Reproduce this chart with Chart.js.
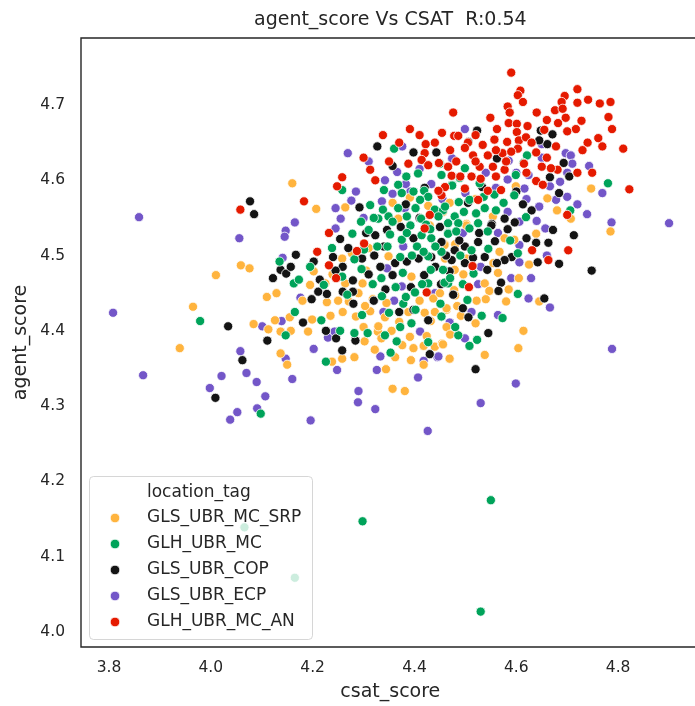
<!DOCTYPE html>
<html>
<head>
<meta charset="utf-8">
<script src="https://cdn.jsdelivr.net/npm/chart.js@4.4.1/dist/chart.umd.min.js"></script>
<style>
html,body{margin:0;padding:0;background:#fff;overflow:hidden;width:695px;height:706px;}
#wrap{width:705px;height:706px;}
</style>
</head>
<body>
<div id="wrap"><canvas id="c" width="705" height="706"></canvas></div>
<script>
// ---- data ----
const seriesNames = ["GLS_UBR_MC_SRP","GLH_UBR_MC","GLS_UBR_COP","GLS_UBR_ECP","GLH_UBR_MC_AN"];
const xTicks = [3.8,4.0,4.2,4.4,4.6,4.8];
const yTicks = [4.0,4.1,4.2,4.3,4.4,4.5,4.6,4.7];
const titleText = "agent_score Vs CSAT  R:0.54";
const xLabel = "csat_score";
const yLabel = "agent_score";
const legendTitle = "location_tag";

const srp = [[4.059,4.487],[4.076,4.483],[4.010,4.474],[4.110,4.445],[4.129,4.450],
[3.965,4.432],[3.939,4.377],[4.084,4.409],[4.126,4.414],[4.113,4.402],[4.137,4.399],[4.137,4.370],[4.150,4.355],
[4.160,4.596],[4.207,4.562],[4.264,4.564],[4.357,4.570],[4.391,4.577],[4.427,4.566],[4.469,4.570],[4.368,4.549],[4.460,4.515],[4.195,4.461],[4.202,4.479],[4.225,4.463],[4.258,4.496],[4.264,4.463],[4.277,4.503],[4.298,4.463],[4.310,4.510],[4.349,4.499],[4.394,4.472],[4.460,4.496],
[4.599,4.592],[4.661,4.576],[4.707,4.549],[4.747,4.589],[4.554,4.552],[4.502,4.542],[4.469,4.570],[4.456,4.558],
[4.155,4.418],[4.199,4.415],[4.157,4.400],[4.191,4.399],[4.238,4.359],[4.258,4.363],[4.282,4.365],[4.344,4.349],[4.357,4.323],[4.381,4.320],[4.393,4.361],[4.469,4.363],[4.398,4.377],[4.376,4.381],[4.302,4.386],[4.300,4.405],[4.285,4.419],[4.328,4.399],[4.329,4.406],[4.355,4.400],[4.391,4.392],[4.424,4.393],[4.440,4.379],[4.454,4.383],[4.432,4.413],[4.463,4.428],[4.420,4.424],[4.437,4.443],[4.259,4.425],[4.271,4.439],[4.313,4.426],[4.303,4.433],[4.318,4.442],[4.345,4.437],[4.228,4.438],[4.239,4.475],[4.440,4.425],
[4.785,4.532],[4.639,4.529],[4.564,4.477],[4.567,4.505],[4.577,4.523],[4.596,4.521],[4.502,4.496],[4.479,4.481],[4.502,4.540],[4.459,4.514],[4.538,4.463],[4.547,4.453],[4.478,4.454],[4.540,4.442],[4.645,4.439],[4.580,4.439],[4.484,4.433],[4.463,4.430],[4.491,4.420],[4.463,4.405],[4.614,4.400],[4.456,4.382],[4.604,4.377],[4.538,4.368],[4.469,4.363],
[4.370,4.412],[4.342,4.418],[4.410,4.440],[4.388,4.425],[4.450,4.450],[4.418,4.380],[4.362,4.365],[4.322,4.375],[4.290,4.450],[4.305,4.480],[4.250,4.440],[4.480,4.447],[4.522,4.440],[4.520,4.410],[4.496,4.475],[4.555,4.490],[4.605,4.470],[4.625,4.488],[4.585,4.455],[4.470,4.395],[4.418,4.355],[4.335,4.390],[4.235,4.420],[4.180,4.440],[4.430,4.540],[4.520,4.575],[4.480,4.515],[4.680,4.560]];

const mc = [[4.135,4.492],
[3.979,4.413],[4.147,4.394],[4.098,4.290],
[4.360,4.642],[4.407,4.609],[4.258,4.587],[4.368,4.594],[4.453,4.607],[4.474,4.594],[4.340,4.587],[4.375,4.583],[4.398,4.585],[4.419,4.586],[4.427,4.578],[4.313,4.567],[4.338,4.561],[4.368,4.563],[4.411,4.574],[4.440,4.561],[4.456,4.560],[4.278,4.529],[4.295,4.545],[4.329,4.549],[4.349,4.552],[4.385,4.552],[4.413,4.549],[4.466,4.543],[4.310,4.534],[4.375,4.521],[4.414,4.527],[4.433,4.523],[4.466,4.530],[4.163,4.463],[4.173,4.468],[4.222,4.461],[4.258,4.472],[4.296,4.482],[4.327,4.512],[4.347,4.512],[4.377,4.477],[4.405,4.512],[4.427,4.499],[4.427,4.463],[4.453,4.505],[4.466,4.463],
[4.621,4.633],[4.499,4.616],[4.614,4.623],[4.474,4.593],[4.599,4.607],[4.557,4.581],[4.706,4.560],[4.780,4.596],[4.619,4.551],[4.460,4.565],[4.487,4.571],[4.508,4.574],[4.538,4.563],[4.560,4.560],[4.525,4.543],[4.479,4.552],
[4.165,4.425],[4.217,4.414],[4.254,4.400],[4.226,4.359],[4.353,4.371],[4.282,4.397],[4.308,4.397],[4.342,4.394],[4.365,4.386],[4.372,4.405],[4.394,4.410],[4.427,4.385],[4.453,4.419],[4.451,4.436],[4.297,4.421],[4.336,4.446],[4.378,4.436],[4.401,4.451],[4.350,4.424],
[4.603,4.503],[4.544,4.532],[4.512,4.507],[4.456,4.481],[4.466,4.529],[4.486,4.543],[4.508,4.536],[4.459,4.464],[4.603,4.449],[4.504,4.441],[4.453,4.419],[4.573,4.417],[4.486,4.394],[4.523,4.388],[4.508,4.380],
[4.550,4.175],[4.298,4.147],[4.530,4.027],[4.066,4.139],[4.165,4.072],
[4.392,4.540],[4.423,4.541],[4.447,4.552],[4.402,4.563],[4.431,4.535],[4.385,4.530],[4.357,4.545],[4.441,4.512],[4.418,4.505],[4.395,4.500],[4.482,4.532],[4.497,4.558],[4.521,4.556],[4.536,4.578],[4.490,4.500],[4.516,4.476],[4.470,4.470],[4.432,4.481],[4.372,4.498],[4.352,4.528],[4.320,4.550],[4.301,4.508],[4.282,4.495],[4.318,4.462],[4.402,4.428],[4.383,4.445],[4.415,4.462],[4.363,4.458],[4.335,4.470],[4.480,4.405],[4.532,4.420],[4.495,4.462],[4.545,4.509],[4.588,4.520],[4.575,4.570],[4.596,4.580],[4.528,4.596],[4.489,4.603],[4.450,4.622],[4.384,4.605],[4.238,4.510],[4.195,4.485],[4.268,4.448]];

const cop = [[4.077,4.572],[4.085,4.555],[4.137,4.481],[4.122,4.470],[4.148,4.476],
[4.034,4.406],[4.062,4.361],[4.009,4.311],[4.111,4.387],
[4.327,4.645],[4.398,4.637],[4.443,4.637],[4.357,4.619],[4.292,4.564],[4.254,4.522],[4.346,4.534],[4.373,4.538],[4.450,4.538],[4.323,4.527],[4.398,4.523],[4.453,4.518],[4.167,4.501],[4.157,4.485],[4.202,4.492],[4.240,4.498],[4.214,4.468],[4.259,4.485],[4.297,4.496],[4.279,4.467],[4.321,4.500],[4.333,4.485],[4.310,4.475],[4.362,4.490],[4.357,4.474],[4.385,4.492],[4.408,4.496],[4.419,4.474],[4.441,4.485],[4.469,4.479],
[4.523,4.666],[4.506,4.651],[4.648,4.666],[4.671,4.661],[4.661,4.648],[4.645,4.653],[4.562,4.629],[4.693,4.623],[4.704,4.605],[4.666,4.604],[4.533,4.591],[4.684,4.583],[4.613,4.568],[4.577,4.549],[4.552,4.542],
[4.198,4.442],[4.181,4.411],[4.226,4.400],[4.246,4.390],[4.258,4.374],[4.430,4.369],[4.284,4.387],[4.370,4.425],[4.398,4.428],[4.280,4.436],[4.259,4.452],[4.279,4.452],[4.211,4.452],[4.228,4.449],[4.320,4.440],[4.427,4.414],
[4.713,4.527],[4.684,4.489],[4.748,4.480],[4.663,4.517],[4.642,4.491],[4.639,4.517],[4.672,4.534],[4.591,4.498],[4.577,4.494],[4.570,4.464],[4.562,4.490],[4.583,4.535],[4.551,4.540],[4.525,4.518],[4.499,4.512],[4.479,4.507],[4.538,4.498],[4.473,4.494],[4.499,4.490],[4.543,4.481],[4.476,4.448],[4.655,4.443],[4.506,4.418],[4.545,4.397],[4.520,4.349],
[4.410,4.550],[4.488,4.520],[4.462,4.500],[4.433,4.498],[4.515,4.497],[4.527,4.530],[4.558,4.519],[4.597,4.544],[4.620,4.523],[4.505,4.570],[4.452,4.462],[4.393,4.458],[4.340,4.512],[4.305,4.530],[4.270,4.510],[4.383,4.568],[4.420,4.590],[4.600,4.585],[4.630,4.560],[4.495,4.430],[4.565,4.453],[4.343,4.455],[4.245,4.480]];

const ecp = [[3.859,4.551],[4.056,4.523],[4.147,4.533],[4.145,4.525],[4.141,4.497],
[3.808,4.424],[3.867,4.341],[4.058,4.373],[4.070,4.344],[4.021,4.340],[4.090,4.332],[3.998,4.324],[4.107,4.313],[4.091,4.297],[4.052,4.292],[4.038,4.282],[4.101,4.406],[4.139,4.413],[4.147,4.363],
[4.376,4.645],[4.269,4.636],[4.310,4.625],[4.366,4.611],[4.474,4.628],[4.342,4.600],[4.383,4.595],[4.433,4.595],[4.357,4.582],[4.165,4.544],[4.245,4.563],[4.255,4.549],[4.276,4.573],[4.336,4.572],[4.381,4.563],[4.245,4.536],[4.346,4.483],[4.378,4.512],[4.375,4.459],
[4.499,4.668],[4.650,4.648],[4.585,4.626],[4.697,4.636],[4.707,4.633],[4.710,4.622],[4.743,4.619],[4.686,4.598],[4.624,4.607],[4.474,4.629],[4.583,4.601],[4.616,4.589],[4.666,4.592],[4.678,4.574],[4.700,4.578],[4.720,4.568],[4.739,4.555],[4.769,4.583],[4.787,4.544],[4.900,4.543],[4.645,4.565],[4.606,4.545],[4.583,4.558],
[4.176,4.444],[4.230,4.391],[4.243,4.399],[4.202,4.376],[4.160,4.336],[4.196,4.281],[4.248,4.348],[4.290,4.320],[4.289,4.305],[4.323,4.296],[4.326,4.348],[4.333,4.366],[4.407,4.338],[4.418,4.360],[4.445,4.365],[4.426,4.267],[4.411,4.399],[4.469,4.411],[4.339,4.425],
[4.657,4.536],[4.640,4.546],[4.606,4.514],[4.606,4.491],[4.629,4.470],[4.564,4.530],[4.525,4.462],[4.624,4.443],[4.666,4.431],[4.512,4.425],[4.564,4.421],[4.469,4.411],[4.499,4.390],[4.447,4.366],[4.788,4.376],
[4.530,4.304],[4.599,4.330],
[4.455,4.575],[4.500,4.583],[4.540,4.610],[4.410,4.615],[4.392,4.585],[4.560,4.590],[4.620,4.575],[4.650,4.630],[4.495,4.530],[4.530,4.485],[4.440,4.450],[4.360,4.440],[4.300,4.550],[4.285,4.585],[4.590,4.470],[4.660,4.500],[4.700,4.610],[4.600,4.610]];

const an = [[4.058,4.561],
[4.391,4.668],[4.338,4.660],[4.454,4.663],[4.478,4.659],[4.300,4.630],[4.422,4.648],[4.420,4.636],[4.388,4.622],[4.313,4.614],[4.414,4.627],[4.427,4.620],[4.448,4.623],[4.466,4.618],[4.323,4.600],[4.258,4.604],[4.248,4.592],[4.473,4.606],[4.460,4.591],[4.453,4.580],[4.447,4.586],[4.183,4.572],[4.430,4.554],[4.232,4.530],[4.420,4.536],[4.209,4.505],[4.232,4.487],[4.287,4.506],[4.301,4.516],
[4.590,4.743],[4.608,4.719],[4.603,4.713],[4.613,4.704],[4.583,4.698],[4.587,4.690],[4.476,4.690],[4.549,4.683],[4.720,4.721],[4.695,4.712],[4.689,4.704],[4.720,4.703],[4.741,4.707],[4.764,4.702],[4.785,4.704],[4.676,4.693],[4.691,4.695],[4.781,4.684],[4.728,4.679],[4.697,4.683],[4.682,4.676],[4.717,4.668],[4.788,4.668],[4.761,4.656],[4.769,4.645],[4.810,4.642],[4.822,4.588],[4.486,4.659],[4.562,4.668],[4.585,4.676],[4.601,4.675],[4.622,4.672],[4.601,4.664],[4.557,4.654],[4.505,4.650],[4.534,4.647],[4.582,4.651],[4.605,4.653],[4.619,4.657],[4.655,4.667],[4.678,4.645],[4.603,4.642],[4.499,4.643],[4.515,4.633],[4.544,4.633],[4.573,4.636],[4.590,4.638],[4.639,4.637],[4.615,4.622],[4.749,4.610],[4.681,4.614],[4.720,4.610],[4.650,4.618],[4.668,4.616],[4.639,4.599],[4.466,4.618],[4.482,4.625],[4.528,4.618],[4.554,4.618],[4.577,4.614],[4.512,4.605],[4.530,4.602],[4.499,4.589],[4.570,4.587],[4.544,4.586],[4.652,4.594],[4.700,4.554],[4.525,4.574],
[4.246,4.470],[4.424,4.451],
[4.702,4.507],[4.663,4.494],[4.631,4.507],[4.514,4.486],[4.507,4.458],
[4.470,4.640],[4.440,4.650],[4.410,4.660],[4.520,4.660],[4.560,4.640],[4.630,4.650],[4.660,4.680],[4.640,4.690],[4.700,4.665],[4.740,4.650],[4.730,4.640],[4.660,4.630],[4.580,4.625],[4.520,4.625],[4.490,4.605],[4.620,4.610],[4.560,4.605],[4.350,4.625],[4.370,4.650]];

const seriesData = [srp, mc, cop, ecp, an];
const seriesColors = ["#FFB43E","#00A35A","#141414","#7356C8","#E51A00"];
const drawOrder = [4,2,3,5,1]; // higher drawn first

const TXT = "#262626";
const FONT = "'DejaVu Sans', sans-serif";

const datasets = seriesData.map((d,i)=>({
  label: seriesNames[i],
  data: d.map(p=>({x:p[0], y:p[1]})),
  backgroundColor: seriesColors[i],
  borderColor: "#ffffff",
  borderWidth: 0.8,
  pointRadius: 4.6,
  pointHoverRadius: 4.6,
  order: drawOrder[i]
}));

const decor = {
  id: 'decor',
  afterDatasetsDraw(chart){
    const ctx = chart.ctx, a = chart.chartArea;
    ctx.save();
    ctx.strokeStyle = "#262626";
    ctx.lineWidth = 1.4;
    ctx.beginPath();
    ctx.moveTo(a.right+2, a.top); ctx.lineTo(a.left, a.top); ctx.lineTo(a.left, a.bottom); ctx.lineTo(a.right+2, a.bottom);
    ctx.stroke();
    const lx = 89.5, ly = 476.5, lw = 223, lh = 163, r = 4;
    ctx.beginPath();
    ctx.moveTo(lx+r, ly); ctx.lineTo(lx+lw-r, ly); ctx.arcTo(lx+lw, ly, lx+lw, ly+r, r);
    ctx.lineTo(lx+lw, ly+lh-r); ctx.arcTo(lx+lw, ly+lh, lx+lw-r, ly+lh, r);
    ctx.lineTo(lx+r, ly+lh); ctx.arcTo(lx, ly+lh, lx, ly+lh-r, r);
    ctx.lineTo(lx, ly+r); ctx.arcTo(lx, ly, lx+r, ly, r); ctx.closePath();
    ctx.fillStyle = "rgba(255,255,255,0.8)"; ctx.fill();
    ctx.strokeStyle = "rgba(204,204,204,0.8)"; ctx.lineWidth = 1; ctx.stroke();
    ctx.font = "17px " + FONT;
    ctx.textBaseline = "middle"; ctx.textAlign = "left";
    ctx.fillStyle = TXT;
    ctx.fillText(legendTitle, 147, 493);
    const ys = [518, 544, 570, 596, 622];
    seriesNames.forEach((n,i)=>{
      ctx.beginPath();
      ctx.arc(115, ys[i], 4.8, 0, Math.PI*2);
      ctx.fillStyle = seriesColors[i]; ctx.fill();
      ctx.strokeStyle = "#fff"; ctx.lineWidth = 0.8; ctx.stroke();
      ctx.fillStyle = TXT;
      ctx.fillText(n, 147, ys[i]);
    });
    ctx.font = "19px " + FONT;
    ctx.textAlign = "center";
    ctx.fillText(titleText, (a.left + a.right)/2, 20);
    ctx.restore();
  }
};

new Chart(document.getElementById('c'), {
  type: 'scatter',
  data: { datasets },
  options: {
    responsive: false,
    animation: false,
    layout: { padding: { top: 38, right: 2, left: 0, bottom: 0 } },
    plugins: { legend: { display: false }, tooltip: { enabled: false }, title: { display: false } },
    scales: {
      x: {
        type: 'linear', min: 3.745, max: 4.960,
        afterBuildTicks: s => { s.ticks = xTicks.map(v=>({value:v})); },
        afterFit: s => { s.height = 59; },
        grid: { display: false, drawTicks: false },
        border: { display: false },
        ticks: { color: TXT, font: { family: FONT, size: 15.5 }, padding: 12, callback: v => Number(v).toFixed(1), maxRotation: 0 },
        title: { display: true, text: xLabel, color: TXT, font: { family: FONT, size: 19 }, padding: { top: 0, bottom: 3 } }
      },
      y: {
        type: 'linear', min: 3.980, max: 4.789,
        afterBuildTicks: s => { s.ticks = yTicks.map(v=>({value:v})); },
        afterFit: s => { s.width = 81; },
        grid: { display: false, drawTicks: false },
        border: { display: false },
        ticks: { color: TXT, font: { family: FONT, size: 15.5 }, padding: 16, callback: v => Number(v).toFixed(1) },
        title: { display: true, text: yLabel, color: TXT, font: { family: FONT, size: 19 }, padding: { top: 10, bottom: 0 } }
      }
    }
  },
  plugins: [decor]
});
</script>
</body>
</html>
